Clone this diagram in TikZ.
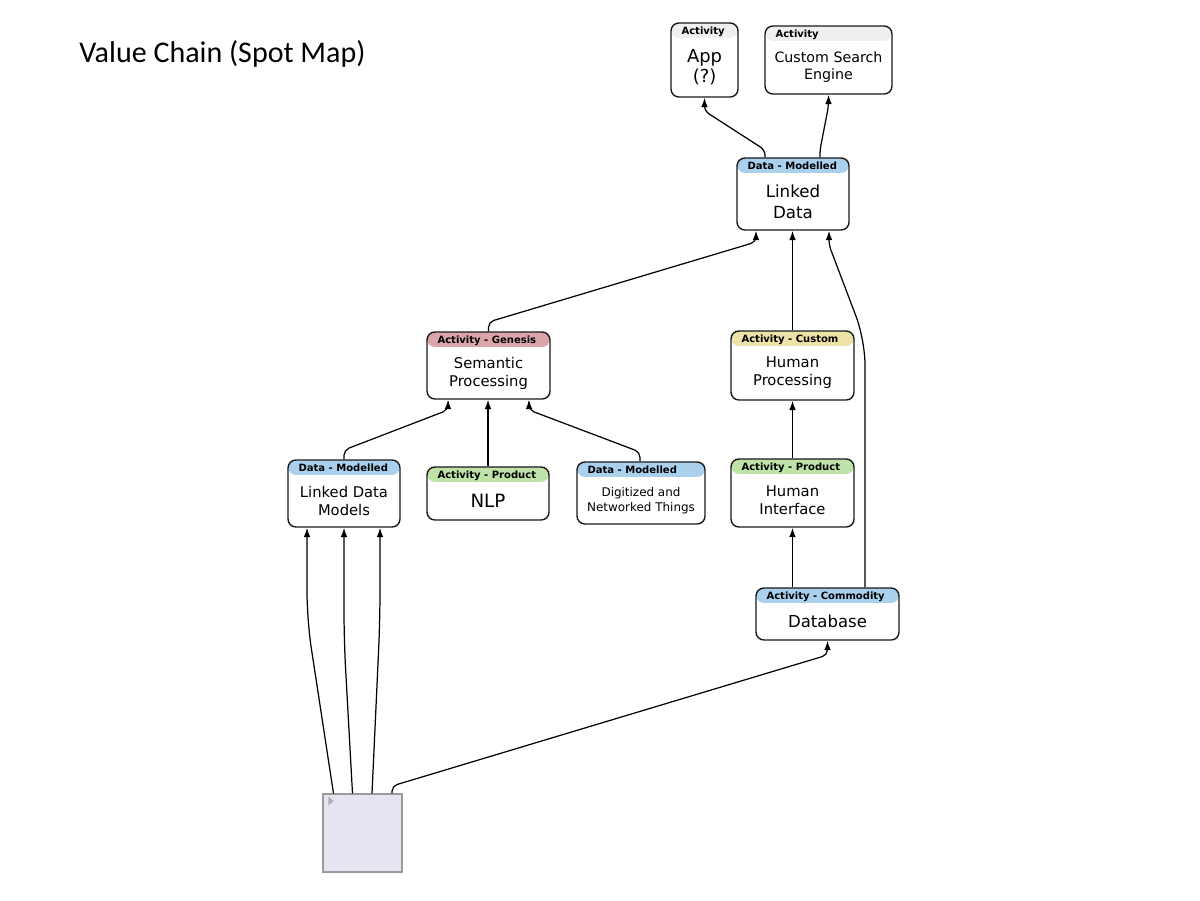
\documentclass[tikz,border=0pt]{standalone}
\usepackage{fontspec}
\setmainfont{DejaVu Sans}
\newfontfamily\titlefont{Carlito}
\usetikzlibrary{arrows.meta}

\definecolor{hdrblue}{HTML}{A9D1EE}
\definecolor{hdrpink}{HTML}{DBA6A9}
\definecolor{hdryellow}{HTML}{EDE3A6}
\definecolor{hdrgreen}{HTML}{BFE2A8}
\definecolor{hdrgray}{HTML}{EFEFEF}
\definecolor{sqfill}{HTML}{E5E5F1}
\definecolor{sqline}{HTML}{9A9A9A}

\begin{document}
\begin{tikzpicture}[x=0.02cm, y=-0.02cm,
  box/.style 2 args={draw=black!90, line width=0.8pt, rounded corners=4.5pt, fill=white,
    path picture={
      \fill[#2] (path picture bounding box.north west) rectangle ([yshift=-8.5pt]path picture bounding box.north east);
      \node[hdr] at ([xshift=5.6pt, yshift=-6.4pt]path picture bounding box.north west) {#1};
    }},
  hdr/.style={anchor=base west, inner sep=0pt, minimum width=0pt, minimum height=0pt,
    draw=none, fill=none, font=\bfseries\fontsize{5.7}{6}\selectfont},
  txt/.style={align=center, inner sep=0pt, yshift=-4.25pt},
  boxsize/.style 2 args={minimum width=#1*0.02cm, minimum height=#2*0.02cm},
  arr/.style={-{Latex[length=5.4pt,width=3.8pt]}, line width=0.7pt, rounded corners=3pt},
]
\useasboundingbox (0,0) rectangle (1200,900);

\node[anchor=base west, inner sep=0pt, font=\titlefont\fontsize{17.1}{20}\selectfont] (title) at (79,62) {Value Chain (Spot Map)};

\node[box={Activity}{hdrgray}, boxsize={67}{74},
  label={[txt, font=\fontsize{10.2}{11.3}\selectfont]center:App\\(?)}] (app) at (704.5,60) {};
\node[box={Activity}{hdrgray}, boxsize={127}{68},
  label={[txt, font=\fontsize{8.1}{9.6}\selectfont]center:Custom Search\\Engine}] (cse) at (828.5,60) {};
\node[box={Data - Modelled}{hdrblue}, boxsize={112}{72},
  label={[txt, font=\fontsize{9.5}{11.9}\selectfont]center:Linked\\Data}] (ld) at (793,194) {};
\node[box={Activity - Genesis}{hdrpink}, boxsize={123}{67},
  label={[txt, font=\fontsize{8.4}{10.2}\selectfont]center:Semantic\\Processing}] (sp) at (488.5,365.5) {};
\node[box={Activity - Custom}{hdryellow}, boxsize={123}{69},
  label={[txt, font=\fontsize{8.4}{10.2}\selectfont]center:Human\\Processing}] (hp) at (792.5,365.5) {};
\node[box={Data - Modelled}{hdrblue}, boxsize={112}{67},
  label={[txt, font=\fontsize{8.4}{10.2}\selectfont]center:Linked Data\\Models}] (ldm) at (344,493.5) {};
\node[box={Activity - Product}{hdrgreen}, boxsize={122}{53},
  label={[txt, font=\fontsize{10.4}{12}\selectfont]center:NLP}] (nlp) at (488,493.5) {};
\node[box={Data - Modelled}{hdrblue}, boxsize={128}{62},
  label={[txt, font=\fontsize{6.8}{8.5}\selectfont]center:Digitized and\\Networked Things}] (dnt) at (641,493) {};
\node[box={Activity - Product}{hdrgreen}, boxsize={123}{68},
  label={[txt, font=\fontsize{8.4}{10.2}\selectfont]center:Human\\Interface}] (hi) at (792.5,493) {};
\node[box={Activity - Commodity}{hdrblue}, boxsize={143}{52},
  label={[txt, font=\fontsize{9.4}{11}\selectfont]center:Database}] (db) at (827.5,614) {};

\node[draw=sqline, fill=sqfill, line width=0.6pt, boxsize={79}{78}] (sq) at (362.5,833) {};
\fill[sqline!80] ([xshift=3.4pt, yshift=-1.8pt]sq.north west) -- ++(0,-5pt) -- ++(3pt,2.5pt) -- cycle;

\draw[arr] (ld.north -| 765,0) -- (765,150) -- (app.south |- 0,111) -- (app.south);
\draw[arr] (ld.north -| 820,0) -- (820,150) -- (cse.south |- 0,106) -- (cse.south);
\draw[arr] (sp.north) -- (488.5,322) -- (756,242) -- (ld.south -| 756,0);
\draw[arr] (hp.north) -- (hp.north |- ld.south);
\draw[arr] (db.north -| 865,0) [rounded corners=14pt] -- (865,340) [rounded corners=3pt] -- (829,245) -- (ld.south -| 829,0);
\draw[arr] (ldm.north) -- (344,450) -- (448,410) -- (sp.south -| 448,0);
\draw[arr] (nlp.north) -- (nlp.north |- sp.south);
\draw[arr] (dnt.north -| 640,0) -- (640,452) -- (529,410) -- (sp.south -| 529,0);
\draw[arr] (hi.north) -- (hi.north |- hp.south);
\draw[arr] (db.north -| hi.south) -- (hi.south);
\draw[arr, rounded corners=16pt] (sq.north -| 333.5,0) -- (307,620) -- (ldm.south -| 307,0);
\draw[arr, rounded corners=16pt] (sq.north -| 352.5,0) -- (344,640) -- (ldm.south -| 344,0);
\draw[arr, rounded corners=16pt] (sq.north -| 372,0) -- (380,620) -- (ldm.south -| 380,0);
\draw[arr] (sq.north -| 392,0) -- (392,786) -- (827.5,655) -- (db.south);
\end{tikzpicture}
\end{document}
